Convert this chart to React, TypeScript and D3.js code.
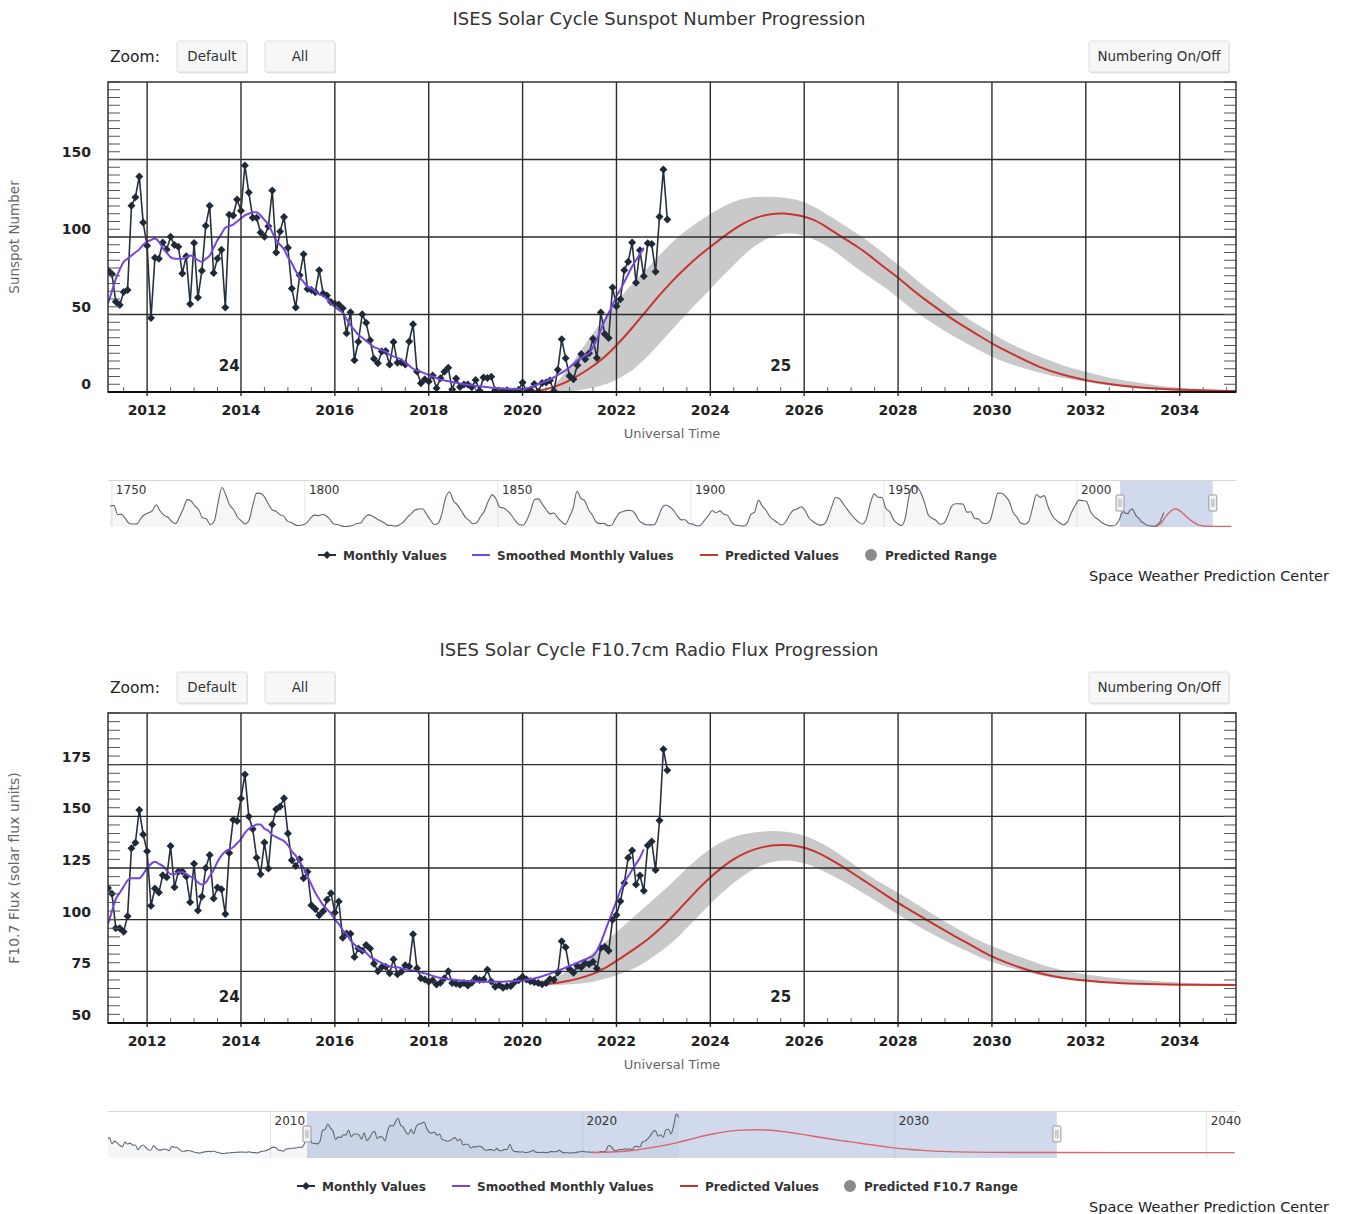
import { useEffect, useRef } from "react";
import * as d3 from "d3";

const W = 1345;
const H = 1214;
const FONT = "'DejaVu Sans', Verdana, sans-serif";

// monthly series start in March 2011
const MONTH0 = 2011 + 2 / 12;
const X_END = 2035.2;

const yearTicks = [2012, 2014, 2016, 2018, 2020, 2022, 2024, 2026, 2028, 2030, 2032, 2034];

// ---- sunspot number ----
const sunspotMonthly = [
  78.6, 76.1, 58.2, 56.1, 64.5, 65.8, 120.1, 125.7, 139.1, 109.3,
  94.4, 47.8, 86.6, 85.9, 96.5, 92.0, 100.1, 94.8, 93.7, 76.5, 87.6, 56.8,
  96.1, 60.9, 78.3, 107.3, 120.2, 76.7, 86.2, 91.8, 54.5, 114.4, 113.9, 124.2,
  117.0, 146.1, 128.7, 112.5, 112.5, 102.9, 100.2, 106.9, 130.0, 90.0, 103.6, 112.9,
  93.0, 66.7, 54.5, 75.3, 88.8, 66.5, 65.8, 64.4, 78.6, 63.6, 62.2, 58.0,
  57.0, 56.4, 54.1, 37.9, 51.5, 20.5, 32.4, 50.2, 44.6, 33.4, 21.4, 18.5,
  26.1, 26.4, 17.7, 32.3, 18.9, 19.2, 17.8, 32.6, 43.7, 13.2, 5.7, 8.2,
  6.8, 10.7, 2.5, 8.9, 13.1, 15.6, 1.6, 8.7, 3.3, 4.9, 4.9, 3.1,
  7.7, 0.8, 9.4, 9.1, 9.9, 1.2, 0.9, 0.5, 1.1, 0.4, 0.5, 1.5,
  6.2, 0.2, 1.5, 5.2, 0.2, 5.8, 6.1, 7.5, 0.6, 14.4, 34.0, 21.8,
  10.4, 8.2, 17.2, 24.5, 21.2, 25.0, 34.3, 22.0, 51.3, 37.4, 34.8, 67.5,
  55.3, 59.9, 78.5, 84.1, 96.5, 70.5, 91.4, 74.6, 96.0, 95.5, 77.6, 113.1,
  143.6, 111.3,
];

const sunspotSmoothed = [
  57, 65, 73, 79, 84, 86, 88, 90, 92, 95, 97, 98,
  99, 97, 93, 90, 87, 86, 86, 86, 87, 88, 87, 85,
  84, 86, 88, 93, 98, 102, 106, 107, 108, 110, 112, 114,
  115, 116, 116, 114, 111, 108, 103, 98, 95, 92, 87, 83,
  78, 74, 71, 68, 67, 65, 63, 62, 60, 57, 55, 53,
  51, 47, 43, 40, 37, 35, 33, 31, 29, 28, 27, 26,
  24, 23, 22, 21, 19, 17, 15, 14, 13, 12, 11, 10,
  9, 8, 7.5, 7, 6.5, 6, 5.5, 5, 4.7, 4.4, 4, 3.7,
  3.4, 3.1, 2.8, 2.6, 2.4, 2.2, 2.1, 2, 1.9, 1.9, 2, 2.4,
  3, 4, 5, 6, 7, 8, 9.5, 11, 12.5, 14, 16, 18,
  20.5, 22, 23.5, 25, 29, 34, 40, 46, 51, 56, 62, 66,
  71, 76, 81, 85, 89, 93,
];

const sunspotPredYears = [
  2020.2, 2020.5, 2020.8, 2021.1, 2021.4, 2021.7, 2022.0, 2022.3, 2022.6, 2022.9,
  2023.2, 2023.5, 2023.8, 2024.1, 2024.4, 2024.7, 2025.0, 2025.3, 2025.55, 2025.9,
  2026.2, 2026.5, 2026.8, 2027.1, 2027.4, 2027.7, 2028.0, 2028.3, 2028.6, 2028.9,
  2029.2, 2029.5, 2029.8, 2030.1, 2030.5, 2031.0, 2031.5, 2032.0, 2032.5, 2033.0,
  2033.5, 2034.0, 2035.0, 2036.0, 2038.0, 2040.0,
];
const sunspotPred = [
  0.5, 1.5, 4.5, 9, 14.5, 21, 30, 40, 51, 62,
  72, 81, 89, 96, 103, 109, 113, 115, 115.5, 114,
  111.5, 106, 100, 94.5, 88, 80.5, 74, 66, 59, 52.5,
  46, 40.5, 35, 29.5, 23.5, 16, 11, 7.5, 5, 3.3,
  2.2, 1.4, 0.6, 0.3, 0.1, 0,
];

const sunspotRangeYears = [
  2020.6, 2020.9, 2021.2, 2021.5, 2021.8, 2022.1, 2022.4, 2022.7, 2023.0, 2023.3,
  2023.6, 2023.9, 2024.2, 2024.5, 2024.8, 2025.1, 2025.4, 2025.7, 2026.0, 2026.3,
  2026.6, 2026.9, 2027.2, 2027.5, 2027.8, 2028.1, 2028.4, 2028.7, 2029.0, 2029.3,
  2029.6, 2029.9, 2030.2, 2030.6, 2031.0, 2031.5, 2032.0, 2032.5, 2033.0, 2033.5,
  2034.0, 2034.5, 2035.5,
];
const sunspotRangeLow = [
  0, 0.3, 1, 2.5, 5, 9.5, 15, 24, 34, 44,
  54, 63, 73, 82, 91, 97.5, 101.5, 103, 101, 97.5,
  92, 85, 78, 72, 66, 58, 51, 45, 39, 34,
  29, 24, 20, 16, 12.5, 9, 6.5, 4, 2.5, 1.5,
  0.6, 0.3, 0.1,
];
const sunspotRangeHigh = [
  2, 12, 25, 38, 50, 62, 72, 81, 91, 100,
  107, 113, 118.5, 123, 125.5, 126, 126, 125, 123, 118,
  112.5, 106.5, 101, 94, 87, 80, 72, 65, 58, 51,
  45, 40, 34, 28, 23, 17, 13, 9, 6.5, 4.2,
  2.6, 1.6, 0.8,
];

// yearly means 1749-2010, for the navigator
const YEARLY0 = 1749;
const sunspotYearly = [
  134.7, 139.0, 79.5, 79.7, 51.2, 20.3, 16.0, 17.0, 54.0, 79.3, 90.0,
  104.8, 143.2, 102.0, 75.2, 60.7, 34.8, 19.0, 63.0, 116.3, 176.8,
  168.0, 136.0, 110.8, 58.0, 51.0, 11.7, 33.0, 154.2, 257.3, 209.8,
  141.3, 113.5, 64.2, 38.0, 17.0, 40.2, 138.2, 220.0, 218.2, 196.8,
  149.8, 111.0, 100.0, 78.2, 68.3, 35.5, 26.7, 10.7, 6.8, 11.3,
  24.2, 56.7, 75.0, 71.8, 79.2, 70.3, 46.8, 16.8, 13.5, 4.2,
  0.0, 2.3, 8.3, 20.3, 23.2, 59.0, 76.3, 68.3, 52.9, 38.5,
  24.2, 9.2, 6.3, 2.2, 11.4, 28.2, 59.9, 83.0, 108.5, 115.2,
  117.4, 80.8, 44.3, 13.4, 19.5, 85.8, 192.7, 227.3, 168.7, 143.0,
  105.5, 63.3, 40.3, 18.1, 25.1, 65.8, 102.7, 166.3, 208.3, 182.5,
  126.3, 122.0, 102.7, 74.1, 39.0, 12.7, 8.2, 43.4, 104.4, 178.3,
  182.2, 146.6, 112.1, 83.5, 89.2, 57.8, 30.7, 13.9, 62.8, 123.6,
  232.0, 185.3, 169.2, 110.1, 74.5, 28.3, 18.9, 20.7, 5.7, 10.0,
  53.7, 90.5, 99.0, 106.1, 105.8, 86.3, 42.4, 21.8, 11.2, 10.4,
  11.8, 59.5, 121.7, 142.0, 130.0, 106.6, 69.4, 43.8, 44.4, 20.2,
  15.7, 4.6, 8.5, 40.8, 70.1, 105.5, 90.1, 102.8, 80.9, 73.2,
  30.9, 9.5, 6.0, 2.4, 16.1, 79.0, 95.0, 173.6, 134.6, 105.7,
  62.7, 43.5, 23.7, 9.7, 27.9, 74.0, 106.5, 114.7, 129.7, 108.2,
  59.4, 35.1, 18.6, 9.2, 14.6, 60.2, 132.8, 190.6, 182.6, 148.0,
  113.0, 79.2, 50.8, 27.1, 16.1, 55.3, 154.3, 214.7, 193.0, 190.7,
  118.9, 98.3, 45.0, 20.1, 6.6, 54.2, 200.7, 269.3, 261.7, 225.1,
  159.0, 76.4, 53.4, 39.9, 15.0, 22.0, 66.8, 132.9, 150.0, 149.4,
  148.0, 94.4, 97.6, 54.1, 49.2, 22.5, 18.4, 39.3, 131.0, 220.1,
  218.9, 198.9, 162.4, 91.0, 60.5, 20.6, 14.8, 33.9, 123.0, 211.1,
  191.8, 203.3, 133.0, 76.1, 44.9, 25.1, 11.6, 28.9, 88.3, 136.3,
  173.9, 170.4, 163.6, 99.3, 65.3, 45.8, 24.7, 12.6, 4.2, 4.8,
  24.9,
];

// ---- F10.7 radio flux ----
const fluxMonthly = [
  115.3, 112.6, 95.9, 95.8, 94.2, 101.7, 134.5, 137.2, 153.1, 141.2,
  133.1, 106.7, 115.1, 113.1, 121.5, 120.5, 135.6, 115.7, 123.3, 123.3, 120.9, 108.4,
  127.1, 104.4, 111.2, 125.0, 131.3, 110.2, 115.6, 114.7, 102.7, 132.3, 148.3, 147.7,
  158.6, 170.3, 149.9, 143.9, 130.0, 122.0, 137.3, 124.7, 146.1, 153.4, 154.8, 158.7,
  141.7, 128.8, 126.0, 129.2, 120.1, 123.2, 107.0, 105.2, 102.1, 104.1, 109.6, 112.8,
  103.5, 108.8, 91.2, 93.3, 93.2, 81.9, 86.1, 85.0, 87.8, 86.1, 78.7, 75.1,
  77.1, 77.2, 74.1, 80.8, 73.6, 74.8, 77.9, 77.3, 93.0, 76.5, 71.7, 71.1,
  69.9, 70.7, 68.6, 69.5, 71.6, 75.1, 69.4, 69.0, 68.5, 69.3, 68.2, 69.5,
  71.7, 70.8, 71.1, 75.8, 70.1, 67.6, 68.4, 67.1, 67.8, 67.9, 69.8, 70.7,
  72.4, 71.0, 70.2, 69.7, 69.4, 68.8, 69.4, 71.3, 70.9, 74.4, 89.6, 86.6,
  76.1, 74.3, 77.6, 77.0, 78.9, 78.4, 79.6, 76.4, 86.3, 86.9, 84.9, 99.9,
  102.3, 108.9, 117.8, 130.0, 133.5, 117.0, 121.4, 114.0, 135.9, 137.8, 124.0, 148.0,
  182.5, 172.3,
];

const fluxSmoothed = [
  98, 104, 110, 113, 116, 119, 120, 120, 120, 122, 125, 127,
  128, 127, 126, 124, 122, 122, 123, 123, 122, 121, 120, 118,
  117, 118, 121, 124, 128, 131, 133, 134, 135, 137, 139, 142,
  144, 145, 146, 146, 144, 143, 141, 140, 139, 138, 136, 133,
  131, 128, 125, 121, 117, 113, 110, 107, 105, 103, 100, 98,
  95, 93, 90, 88, 86, 85, 84, 82, 81, 80, 79, 78,
  77.5, 77, 77, 76.5, 76, 75.7, 75.3, 75, 74.5, 74, 73.4, 72.8,
  72.2, 71.8, 71.5, 71.2, 71, 70.8, 70.6, 70.4, 70.3, 70.2, 70.1, 70,
  70, 70, 70, 70, 70, 70, 70.1, 70.2, 70.3, 70.4, 70.6, 70.9,
  71.2, 71.6, 72, 72.6, 73.2, 73.9, 74.6, 75.3, 76, 76.8, 77.6, 78.4,
  79.2, 80, 80.8, 81.6, 82.5, 85, 89, 94, 99, 104, 109, 114,
  118, 121, 124, 127, 130, 134,
];

const fluxPredYears = [
  2020.3, 2020.6, 2020.9, 2021.2, 2021.5, 2021.8, 2022.1, 2022.4, 2022.7, 2023.0,
  2023.3, 2023.6, 2023.9, 2024.2, 2024.5, 2024.8, 2025.1, 2025.5, 2025.9, 2026.2,
  2026.5, 2026.8, 2027.1, 2027.4, 2027.7, 2028.0, 2028.3, 2028.6, 2028.9, 2029.2,
  2029.5, 2029.8, 2030.1, 2030.5, 2031.0, 2031.5, 2032.0, 2032.5, 2033.0, 2034.0,
  2035.0, 2037.0, 2040.9,
];
const fluxPred = [
  68.4, 69, 70, 71.5, 73.5, 77, 81.5, 86, 91, 97,
  104, 111.5, 118.5, 124.5, 129.5, 133, 135.3, 136.4, 135.6, 133.5,
  130, 126, 121.5, 117, 112.5, 108, 104, 100, 96, 92,
  88.5, 84.5, 81, 77.5, 74, 71.8, 70.5, 69.5, 69, 68.5,
  68.4, 68.3, 68.3,
];

const fluxRangeYears = [
  2020.5, 2020.8, 2021.1, 2021.4, 2021.7, 2022.0, 2022.3, 2022.6, 2022.9, 2023.2,
  2023.5, 2023.8, 2024.1, 2024.4, 2024.7, 2025.0, 2025.3, 2025.6, 2025.9, 2026.2,
  2026.5, 2026.8, 2027.1, 2027.4, 2027.7, 2028.0, 2028.3, 2028.6, 2028.9, 2029.2,
  2029.5, 2029.8, 2030.2, 2030.6, 2031.0, 2031.5, 2032.0, 2032.5, 2033.0, 2034.0,
  2035.0, 2036.0,
];
const fluxRangeLow = [
  68, 68.3, 68.8, 69.5, 71, 73, 75.5, 79, 84, 89,
  96, 103, 110, 116, 121.5, 125.5, 128, 129, 128, 126,
  122.5, 119, 115, 111, 106.5, 102.5, 98.5, 94.5, 91, 87.5,
  84.5, 81, 78, 75.5, 73, 71.2, 70, 69.3, 68.8, 68.4,
  68.3, 68.3,
];
const fluxRangeHigh = [
  69.5, 73, 77, 82, 88, 94, 100, 106, 112, 118,
  125, 131, 136, 139.5, 141.5, 142.5, 143, 142.7, 141.5, 139,
  135.5, 131, 126, 121, 117, 113, 109, 104.5, 100.5, 96.5,
  92.5, 89, 85.5, 82, 78.5, 75.5, 73.3, 72, 71, 69.5,
  68.9, 68.6,
];

// monthly flux from July 2004, shown only in the navigator
const FLUX_EARLY0 = 2004 + 6 / 12;
const fluxEarly = [
  119.1, 109.6, 103.1, 105.8, 113.2, 95.0,
  102.3, 97.3, 89.9, 86.0, 99.5, 93.7, 96.4, 90.6, 91.0, 76.8, 86.3, 90.8,
  83.4, 76.6, 75.5, 88.9, 80.9, 76.5, 75.8, 79.0, 77.8, 74.3, 86.3, 84.4,
  83.5, 77.8, 72.3, 72.4, 74.5, 74.0, 71.5, 69.2, 67.5, 67.2, 69.8, 70.8,
  72.0, 71.3, 72.9, 70.2, 68.4, 65.9, 65.7, 66.8, 67.1, 68.3, 68.6, 69.2,
  69.8, 70.0, 69.2, 69.7, 70.5, 68.6, 68.2, 67.4, 70.5, 72.3, 73.6, 76.7,
  81.1, 84.7, 83.3, 75.9, 73.9, 72.7, 79.2, 79.6, 81.1, 81.6, 82.5, 84.3,
  83.7, 94.5,
];

const sunspotYTicks = [0, 50, 100, 150];
const fluxYTicks = [50, 75, 100, 125, 150, 175];
const sunspotNavTicks = [1750, 1800, 1850, 1900, 1950, 2000];
const fluxNavTicks = [2010, 2020, 2030, 2040];

type Pt = [number, number];

interface PanelCfg {
  id: string;
  dy: number;
  title: string;
  yTitle: string;
  yTitleSize: number;
  yDomain: [number, number];
  yTicks: number[];
  minorStep: number;
  monthly: number[];
  smoothed: number[];
  predYears: number[];
  pred: number[];
  rangeYears: number[];
  rangeLow: number[];
  rangeHigh: number[];
  navHistory: Pt[];
  navRecent: Pt[];
  navDomain: [number, number];
  navYDomain: [number, number];
  navYRange: [number, number];
  navTicks: number[];
  legend: { label: string; kind: string; x: number }[];
}

const monthPts = (vals: number[]): Pt[] => vals.map((v, i) => [MONTH0 + i / 12, v]);

function drawButton(g: any, x: number, y: number, w: number, label: string) {
  g.append("rect")
    .attr("x", x + 1)
    .attr("y", y + 1.5)
    .attr("width", w)
    .attr("height", 31)
    .attr("rx", 2)
    .attr("fill", "#e4e4e4");
  g.append("rect")
    .attr("x", x)
    .attr("y", y)
    .attr("width", w)
    .attr("height", 31)
    .attr("rx", 2)
    .attr("fill", "#f7f7f7")
    .attr("stroke", "#dedede");
  g.append("text")
    .attr("x", x + w / 2)
    .attr("y", y + 20)
    .attr("text-anchor", "middle")
    .attr("font-size", 13.5)
    .attr("fill", "#333")
    .text(label);
}

function drawPanel(svg: any, cfg: PanelCfg) {
  const L = 108, R = 1236, T = 82, B = 392;
  const g = svg.append("g").attr("transform", `translate(0,${cfg.dy})`).attr("font-family", FONT);

  const x = d3.scaleLinear().domain([MONTH0, X_END]).range([L, R]);
  const y = d3.scaleLinear().domain(cfg.yDomain).range([B, T]);

  // title + buttons
  g.append("text")
    .attr("x", 659)
    .attr("y", 25)
    .attr("text-anchor", "middle")
    .attr("font-size", 18)
    .attr("fill", "#333")
    .text(cfg.title);
  g.append("text").attr("x", 110).attr("y", 62).attr("font-size", 15.5).attr("fill", "#222").text("Zoom:");
  drawButton(g, 177, 41, 70, "Default");
  drawButton(g, 265, 41, 70, "All");
  drawButton(g, 1089, 41, 140, "Numbering On/Off");

  const clipId = `clip-${cfg.id}`;
  g.append("clipPath").attr("id", clipId).append("rect").attr("x", L).attr("y", T).attr("width", R - L).attr("height", B - T);
  const plot = g.append("g").attr("clip-path", `url(#${clipId})`);

  // predicted range band
  const rangePts = cfg.rangeYears.map((yr, i) => ({ yr, lo: cfg.rangeLow[i], hi: cfg.rangeHigh[i] }));
  const band = d3
    .area<{ yr: number; lo: number; hi: number }>()
    .x((d) => x(d.yr))
    .y0((d) => y(d.lo))
    .y1((d) => y(d.hi))
    .curve(d3.curveBasis);
  plot.append("path").attr("d", band(rangePts) as string).attr("fill", "#c9c9c9");

  // grid
  g.append("g")
    .selectAll("line")
    .data(cfg.yTicks.filter((v) => v > cfg.yDomain[0]))
    .join("line")
    .attr("x1", L)
    .attr("x2", R)
    .attr("y1", (d) => y(d))
    .attr("y2", (d) => y(d))
    .attr("stroke", "#2b2b2b")
    .attr("stroke-width", 1.4);
  g.append("g")
    .selectAll("line")
    .data(yearTicks)
    .join("line")
    .attr("x1", (d) => x(d))
    .attr("x2", (d) => x(d))
    .attr("y1", T)
    .attr("y2", B + 4)
    .attr("stroke", "#2b2b2b")
    .attr("stroke-width", 1.4);

  // ruler ticks on both sides
  const minor = d3.range(cfg.yDomain[0], cfg.yDomain[1] + 0.01, cfg.minorStep);
  const ruler = g.append("g").attr("stroke", "#555").attr("stroke-width", 1);
  minor.forEach((v) => {
    ruler.append("line").attr("x1", L).attr("x2", L + 12).attr("y1", y(v)).attr("y2", y(v));
    ruler.append("line").attr("x1", R - 12).attr("x2", R).attr("y1", y(v)).attr("y2", y(v));
  });
  // half-year ticks along the time axis
  const halfYears = d3.range(2011.5, X_END, 0.5).filter((t) => !yearTicks.includes(t));
  g.append("g")
    .selectAll("line")
    .data(halfYears)
    .join("line")
    .attr("x1", (d) => x(d))
    .attr("x2", (d) => x(d))
    .attr("y1", B)
    .attr("y2", B - 5)
    .attr("stroke", "#666")
    .attr("stroke-width", 1);

  // predicted values
  const line = d3
    .line<Pt>()
    .x((d) => x(d[0]))
    .y((d) => y(d[1]));
  const predPts: Pt[] = cfg.predYears.map((yr, i) => [yr, cfg.pred[i]]);
  plot
    .append("path")
    .attr("d", line.curve(d3.curveBasis)(predPts) as string)
    .attr("fill", "none")
    .attr("stroke", "#c8342c")
    .attr("stroke-width", 2);

  // monthly values
  const mPts = monthPts(cfg.monthly);
  plot
    .append("path")
    .attr("d", line.curve(d3.curveLinear)(mPts) as string)
    .attr("fill", "none")
    .attr("stroke", "#26313f")
    .attr("stroke-width", 1.6);
  const r = 4;
  plot
    .append("g")
    .selectAll("path")
    .data(mPts)
    .join("path")
    .attr("d", (d) => {
      const px = x(d[0]);
      const py = y(d[1]);
      return `M${px},${py - r}L${px + r},${py}L${px},${py + r}L${px - r},${py}Z`;
    })
    .attr("fill", "#1f2a38");

  // smoothed monthly values
  plot
    .append("path")
    .attr("d", line.curve(d3.curveMonotoneX)(monthPts(cfg.smoothed)) as string)
    .attr("fill", "none")
    .attr("stroke", "#7446dc")
    .attr("stroke-width", 2);

  // cycle numbers
  [
    { yr: 2013.75, label: "24" },
    { yr: 2025.5, label: "25" },
  ].forEach((c) => {
    g.append("text")
      .attr("x", x(c.yr))
      .attr("y", B - 21)
      .attr("text-anchor", "middle")
      .attr("font-size", 15)
      .attr("font-weight", 700)
      .attr("fill", "#222")
      .text(c.label);
  });

  // plot frame
  g.append("rect")
    .attr("x", L)
    .attr("y", T)
    .attr("width", R - L)
    .attr("height", B - T)
    .attr("fill", "none")
    .attr("stroke", "#333")
    .attr("stroke-width", 1.5);
  g.append("line").attr("x1", L).attr("x2", R).attr("y1", B).attr("y2", B).attr("stroke", "#111").attr("stroke-width", 2.2);

  // axis labels
  g.append("g")
    .selectAll("text")
    .data(yearTicks)
    .join("text")
    .attr("x", (d) => x(d))
    .attr("y", B + 23)
    .attr("text-anchor", "middle")
    .attr("font-size", 14)
    .attr("font-weight", 700)
    .attr("fill", "#222")
    .text((d) => d);
  g.append("g")
    .selectAll("text")
    .data(cfg.yTicks)
    .join("text")
    .attr("x", 91)
    .attr("y", (d) => y(d) - 3)
    .attr("text-anchor", "end")
    .attr("font-size", 14)
    .attr("font-weight", 700)
    .attr("fill", "#222")
    .text((d) => d);
  g.append("text")
    .attr("x", 672)
    .attr("y", B + 46)
    .attr("text-anchor", "middle")
    .attr("font-size", 13)
    .attr("fill", "#666")
    .text("Universal Time");
  g.append("text")
    .attr("transform", `translate(19,${(T + B) / 2}) rotate(-90)`)
    .attr("text-anchor", "middle")
    .attr("font-size", cfg.yTitleSize)
    .attr("fill", "#666")
    .text(cfg.yTitle);

  // navigator
  const NT = 480, NB = 527;
  const nx = d3.scaleLinear().domain(cfg.navDomain).range([L, R]);
  const ny = d3.scaleLinear().domain(cfg.navYDomain).range(cfg.navYRange);
  const navClip = `navclip-${cfg.id}`;
  g.append("clipPath").attr("id", navClip).append("rect").attr("x", L).attr("y", NT).attr("width", R - L).attr("height", NB - NT);
  const nav = g.append("g").attr("clip-path", `url(#${navClip})`);
  nav
    .append("g")
    .selectAll("line")
    .data(cfg.navTicks)
    .join("line")
    .attr("x1", (d) => nx(d))
    .attr("x2", (d) => nx(d))
    .attr("y1", NT)
    .attr("y2", NB)
    .attr("stroke", "#e6e6e6");
  const navPts = cfg.navHistory.concat(cfg.navRecent);
  const navArea = d3
    .area<Pt>()
    .x((d) => nx(d[0]))
    .y0(NB)
    .y1((d) => ny(d[1]))
    .curve(d3.curveMonotoneX);
  nav.append("path").attr("d", navArea(navPts) as string).attr("fill", "#5a6478").attr("fill-opacity", 0.06);
  const selX0 = nx(MONTH0);
  const selX1 = nx(X_END);
  nav
    .append("rect")
    .attr("x", selX0)
    .attr("y", NT)
    .attr("width", selX1 - selX0)
    .attr("height", NB - NT)
    .attr("fill", "rgba(102,133,194,0.3)");
  const navLine = d3
    .line<Pt>()
    .x((d) => nx(d[0]))
    .y((d) => ny(d[1]))
    .curve(d3.curveMonotoneX);
  nav
    .append("path")
    .attr("d", navLine(navPts) as string)
    .attr("fill", "none")
    .attr("stroke", "#62666d")
    .attr("stroke-width", 1.1);
  nav
    .append("path")
    .attr("d", navLine.curve(d3.curveBasis)(predPts) as string)
    .attr("fill", "none")
    .attr("stroke", "#d9636f")
    .attr("stroke-width", 1.4);
  g.append("line").attr("x1", L).attr("x2", R).attr("y1", NT + 0.5).attr("y2", NT + 0.5).attr("stroke", "#d8d8d8");
  g.append("g")
    .selectAll("text")
    .data(cfg.navTicks)
    .join("text")
    .attr("x", (d) => nx(d) + 4)
    .attr("y", NT + 14)
    .attr("font-size", 12)
    .attr("fill", "#333")
    .text((d) => d);
  [selX0, selX1].forEach((hx) => {
    g.append("rect")
      .attr("x", hx - 4)
      .attr("y", NT + 15)
      .attr("width", 8)
      .attr("height", 16)
      .attr("rx", 1)
      .attr("fill", "#f2f2f2")
      .attr("stroke", "#999");
    g.append("line")
      .attr("x1", hx - 1)
      .attr("x2", hx - 1)
      .attr("y1", NT + 19)
      .attr("y2", NT + 27)
      .attr("stroke", "#aaa");
    g.append("line")
      .attr("x1", hx + 1)
      .attr("x2", hx + 1)
      .attr("y1", NT + 19)
      .attr("y2", NT + 27)
      .attr("stroke", "#aaa");
  });

  // legend
  const LY = 555;
  cfg.legend.forEach((item) => {
    const lg = g.append("g");
    if (item.kind === "range") {
      lg.append("circle").attr("cx", item.x + 2).attr("cy", LY).attr("r", 6).attr("fill", "#8a8a8a");
    } else {
      const col = item.kind === "monthly" ? "#26313f" : item.kind === "smoothed" ? "#7446dc" : "#c8342c";
      lg.append("line")
        .attr("x1", item.x)
        .attr("x2", item.x + 18)
        .attr("y1", LY)
        .attr("y2", LY)
        .attr("stroke", col)
        .attr("stroke-width", 2);
      if (item.kind === "monthly") {
        const cx = item.x + 9;
        lg.append("path").attr("d", `M${cx},${LY - 4}L${cx + 4},${LY}L${cx},${LY + 4}L${cx - 4},${LY}Z`).attr("fill", "#1f2a38");
      }
    }
    lg.append("text")
      .attr("x", item.kind === "range" ? item.x + 16 : item.x + 25)
      .attr("y", LY + 4.5)
      .attr("font-size", 12)
      .attr("font-weight", 700)
      .attr("fill", "#333")
      .text(item.label);
  });

  g.append("text")
    .attr("x", 1329)
    .attr("y", 581)
    .attr("text-anchor", "end")
    .attr("font-size", 14.5)
    .attr("fill", "#222")
    .text("Space Weather Prediction Center");
}

export default function App() {
  const ref = useRef<SVGSVGElement | null>(null);

  useEffect(() => {
    const svg = d3.select(ref.current);
    svg.selectAll("*").remove();
    svg.append("rect").attr("width", W).attr("height", H).attr("fill", "#fff");

    drawPanel(svg, {
      id: "ssn",
      dy: 0,
      title: "ISES Solar Cycle Sunspot Number Progression",
      yTitle: "Sunspot Number",
      yTitleSize: 13.5,
      yDomain: [0, 200],
      yTicks: sunspotYTicks,
      minorStep: 5,
      monthly: sunspotMonthly,
      smoothed: sunspotSmoothed,
      predYears: sunspotPredYears,
      pred: sunspotPred,
      rangeYears: sunspotRangeYears,
      rangeLow: sunspotRangeLow,
      rangeHigh: sunspotRangeHigh,
      navHistory: sunspotYearly.map((v, i) => [YEARLY0 + i + 0.5, v] as Pt),
      navRecent: monthPts(sunspotSmoothed),
      navDomain: [1749.0, 2041.2],
      navYDomain: [0, 280],
      navYRange: [526.5, 484],
      navTicks: sunspotNavTicks,
      legend: [
        { label: "Monthly Values", kind: "monthly", x: 318 },
        { label: "Smoothed Monthly Values", kind: "smoothed", x: 472 },
        { label: "Predicted Values", kind: "pred", x: 700 },
        { label: "Predicted Range", kind: "range", x: 869 },
      ],
    });

    drawPanel(svg, {
      id: "flux",
      dy: 631,
      title: "ISES Solar Cycle F10.7cm Radio Flux Progression",
      yTitle: "F10.7 Flux (solar flux units)",
      yTitleSize: 14,
      yDomain: [50, 200],
      yTicks: fluxYTicks,
      minorStep: 25 / 6,
      monthly: fluxMonthly,
      smoothed: fluxSmoothed,
      predYears: fluxPredYears,
      pred: fluxPred,
      rangeYears: fluxRangeYears,
      rangeLow: fluxRangeLow,
      rangeHigh: fluxRangeHigh,
      navHistory: fluxEarly.map((v, i) => [FLUX_EARLY0 + i / 12, v] as Pt),
      navRecent: monthPts(fluxMonthly),
      navDomain: [2004.79, 2040.94],
      navYDomain: [60, 190],
      navYRange: [524.4, 480.6],
      navTicks: fluxNavTicks,
      legend: [
        { label: "Monthly Values", kind: "monthly", x: 297 },
        { label: "Smoothed Monthly Values", kind: "smoothed", x: 452 },
        { label: "Predicted Values", kind: "pred", x: 680 },
        { label: "Predicted F10.7 Range", kind: "range", x: 848 },
      ],
    });
  }, []);

  return (
    <svg
      ref={ref}
      width={W}
      height={H}
      style={{ position: "absolute", left: 0, top: 0, display: "block" }}
    />
  );
}
